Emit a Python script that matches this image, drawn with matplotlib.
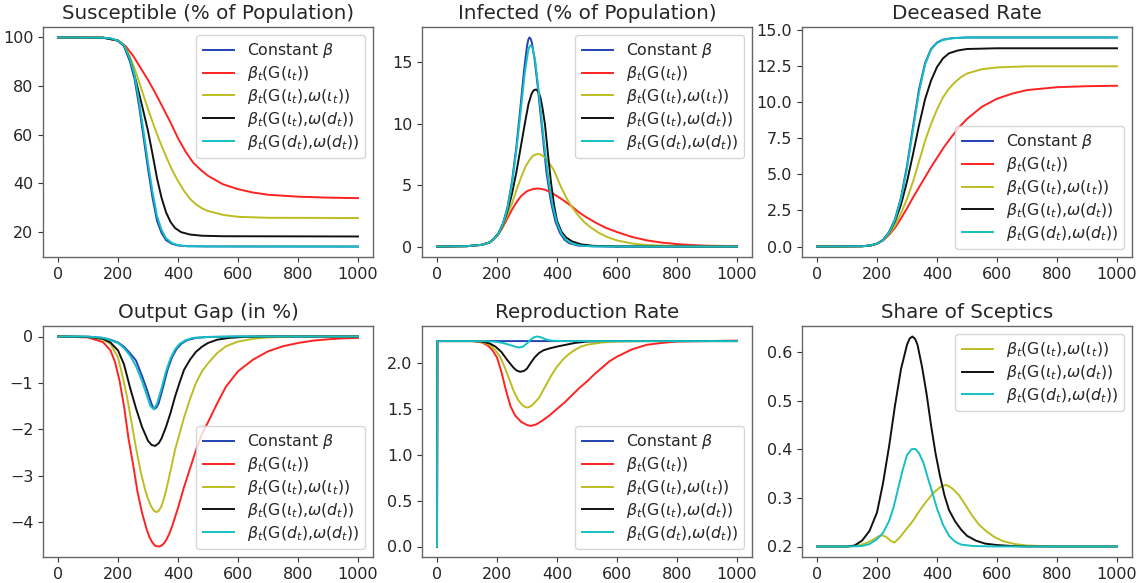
import matplotlib
matplotlib.use("Agg")
import matplotlib.pyplot as plt
from matplotlib.ticker import MultipleLocator, FormatStrFormatter

# -- Values (t in days) --------------------------------------------------------
LABEL_CONST = r"Constant $\beta$"
LABEL_GI    = r"$\beta_t$(G($\iota_t$))"
LABEL_GI_WI = r"$\beta_t$(G($\iota_t$),$\omega$($\iota_t$))"
LABEL_GI_WD = r"$\beta_t$(G($\iota_t$),$\omega$($d_t$))"
LABEL_GD_WD = r"$\beta_t$(G($d_t$),$\omega$($d_t$))"

# Susceptible (% of population)
s_t_const = [0, 150, 175, 200, 220, 240, 255, 270, 285, 300, 315, 330, 345, 360, 380, 400, 430, 500, 1000]
s_const   = [100, 99.9, 99.6, 98.6, 96.5, 90, 83, 72, 59, 46, 34, 24.5, 19.5, 16.5, 15, 14.3, 14.0, 13.9, 13.85]
s_t_gi    = [0, 150, 200, 225, 250, 275, 300, 325, 350, 375, 400, 425, 450, 475, 500, 550, 600, 650, 700, 800, 900, 1000]
s_gi      = [100, 99.9, 98.7, 96.5, 92.5, 87.5, 82.5, 77, 71, 65, 58.5, 53, 48.5, 45.5, 43, 39.5, 37.5, 36.1, 35.2, 34.4, 34.0, 33.8]
s_t_gi_wi = [0, 150, 200, 220, 240, 260, 280, 300, 320, 340, 360, 380, 400, 420, 440, 460, 480, 500, 550, 600, 700, 1000]
s_gi_wi   = [100, 99.9, 98.8, 96.8, 92, 85.5, 78, 70.5, 63.5, 57, 51, 45.5, 40.8, 36.8, 33.5, 31.2, 29.6, 28.5, 26.9, 26.1, 25.7, 25.6]
s_t_gi_wd = [0, 150, 200, 220, 240, 260, 280, 300, 315, 330, 345, 360, 375, 390, 410, 440, 480, 550, 1000]
s_gi_wd   = [100, 99.9, 98.7, 96.6, 91, 82, 72, 61.5, 52, 42, 34, 28, 24, 21.5, 19.8, 18.8, 18.3, 18.1, 18.0]
s_t_gd_wd = [0, 150, 175, 200, 220, 240, 255, 270, 285, 300, 315, 330, 345, 360, 380, 400, 430, 500, 1000]
s_gd_wd   = [100, 99.9, 99.6, 98.7, 96.8, 91, 84.5, 74, 61.5, 48.5, 36.5, 26.5, 20.8, 17.3, 15.3, 14.4, 14.0, 13.9, 13.85]

# Infected (% of population)
i_t_const = [0, 100, 150, 175, 190, 205, 220, 235, 250, 265, 280, 290, 300, 304, 308, 312, 316, 325, 335, 350, 365, 380, 395, 410, 425, 440, 470, 520, 600, 1000]
i_const   = [0, 0.03, 0.15, 0.35, 0.65, 1.1, 1.9, 3.2, 5.3, 8.2, 11.8, 14.3, 16.3, 16.8, 17.0, 16.9, 16.6, 15.3, 13.2, 9.6, 6.0, 3.6, 2.0, 1.1, 0.55, 0.28, 0.08, 0.02, 0, 0]
i_t_gi    = [0, 100, 150, 175, 190, 205, 220, 235, 250, 265, 280, 300, 320, 338, 360, 380, 400, 425, 450, 475, 500, 530, 560, 600, 650, 700, 750, 800, 850, 900, 1000]
i_gi      = [0, 0.03, 0.14, 0.32, 0.6, 1.0, 1.6, 2.3, 3.0, 3.6, 4.1, 4.5, 4.68, 4.72, 4.62, 4.4, 4.1, 3.7, 3.25, 2.75, 2.35, 1.93, 1.55, 1.18, 0.78, 0.5, 0.32, 0.2, 0.12, 0.07, 0.03]
i_t_gi_wi = [0, 100, 150, 175, 190, 205, 220, 235, 250, 265, 280, 295, 310, 320, 330, 340, 350, 360, 375, 390, 405, 420, 435, 450, 470, 490, 510, 540, 570, 600, 650, 700, 800, 1000]
i_gi_wi   = [0, 0.03, 0.14, 0.33, 0.62, 1.03, 1.7, 2.6, 3.5, 4.6, 5.6, 6.5, 7.1, 7.38, 7.5, 7.52, 7.42, 7.22, 6.75, 6.2, 5.3, 4.5, 3.8, 3.2, 2.55, 2.0, 1.6, 1.1, 0.75, 0.5, 0.25, 0.12, 0.03, 0]
i_t_gi_wd = [0, 100, 150, 175, 190, 205, 220, 235, 250, 265, 280, 295, 305, 315, 322, 330, 338, 345, 352, 360, 370, 380, 390, 400, 415, 430, 450, 480, 520, 600, 1000]
i_gi_wd   = [0, 0.03, 0.14, 0.33, 0.63, 1.05, 1.8, 2.9, 4.3, 6.1, 8.2, 10.3, 11.6, 12.4, 12.7, 12.77, 12.6, 12.1, 11.2, 9.9, 7.5, 5.2, 3.4, 2.1, 1.2, 0.75, 0.42, 0.18, 0.06, 0.01, 0]
i_t_gd_wd = [0, 100, 150, 175, 190, 205, 220, 235, 250, 265, 280, 292, 303, 307, 311, 315, 319, 328, 340, 355, 370, 385, 400, 415, 430, 450, 480, 520, 600, 1000]
i_gd_wd   = [0, 0.03, 0.14, 0.33, 0.63, 1.05, 1.85, 3.1, 5.1, 7.9, 11.2, 14.0, 15.8, 16.2, 16.35, 16.3, 16.1, 15.0, 12.4, 8.9, 5.7, 3.4, 1.9, 1.05, 0.55, 0.25, 0.07, 0.02, 0, 0]

# Deceased rate
d_t_const = [0, 150, 180, 200, 220, 240, 260, 280, 300, 320, 340, 360, 380, 400, 420, 450, 500, 1000]
d_const   = [0, 0.02, 0.08, 0.2, 0.45, 1.0, 1.9, 3.4, 5.6, 8.3, 10.9, 12.7, 13.7, 14.15, 14.35, 14.45, 14.5, 14.5]
d_t_gi    = [0, 150, 180, 200, 220, 240, 260, 280, 300, 320, 340, 360, 380, 400, 425, 450, 475, 500, 550, 600, 650, 700, 800, 900, 1000]
d_gi      = [0, 0.02, 0.08, 0.2, 0.42, 0.8, 1.3, 1.95, 2.65, 3.4, 4.1, 4.8, 5.5, 6.15, 6.95, 7.65, 8.3, 8.85, 9.7, 10.25, 10.6, 10.85, 11.05, 11.12, 11.15]
d_t_gi_wi = [0, 150, 180, 200, 220, 240, 260, 280, 300, 320, 340, 360, 380, 400, 420, 440, 460, 480, 500, 550, 600, 700, 1000]
d_gi_wi   = [0, 0.02, 0.08, 0.2, 0.43, 0.85, 1.45, 2.3, 3.3, 4.5, 5.9, 7.3, 8.5, 9.5, 10.35, 10.95, 11.4, 11.75, 12.0, 12.3, 12.42, 12.5, 12.5]
d_t_gi_wd = [0, 150, 180, 200, 220, 240, 260, 280, 300, 320, 340, 360, 380, 400, 420, 440, 470, 500, 600, 1000]
d_gi_wd   = [0, 0.02, 0.08, 0.2, 0.45, 0.95, 1.75, 2.9, 4.5, 6.4, 8.4, 10.2, 11.5, 12.45, 13.05, 13.4, 13.6, 13.7, 13.75, 13.75]
d_t_gd_wd = [0, 150, 180, 200, 220, 240, 260, 280, 300, 320, 340, 360, 380, 400, 420, 450, 500, 1000]
d_gd_wd   = [0, 0.02, 0.08, 0.2, 0.44, 0.97, 1.85, 3.3, 5.4, 8.1, 10.7, 12.6, 13.65, 14.12, 14.33, 14.44, 14.5, 14.5]

# Output gap (in %)
g_t_const = [0, 100, 150, 175, 200, 220, 240, 260, 280, 295, 310, 316, 322, 328, 335, 350, 365, 380, 395, 410, 430, 460, 500, 600, 1000]
g_const   = [0, -0.003, -0.03, -0.07, -0.13, -0.22, -0.36, -0.52, -0.85, -1.12, -1.42, -1.52, -1.56, -1.53, -1.45, -1.1, -0.72, -0.45, -0.27, -0.16, -0.08, -0.03, -0.01, 0, 0]
g_t_gi    = [0, 100, 150, 175, 190, 205, 220, 235, 250, 265, 280, 295, 305, 315, 325, 338, 345, 352, 360, 370, 380, 400, 420, 440, 460, 480, 500, 530, 560, 600, 650, 700, 750, 800, 850, 900, 950, 1000]
g_gi      = [0, -0.02, -0.12, -0.3, -0.55, -0.95, -1.5, -2.2, -2.75, -3.35, -3.8, -4.15, -4.33, -4.45, -4.52, -4.53, -4.51, -4.47, -4.4, -4.27, -4.1, -3.7, -3.25, -2.85, -2.45, -2.1, -1.85, -1.45, -1.08, -0.75, -0.5, -0.32, -0.21, -0.14, -0.09, -0.06, -0.04, -0.03]
g_t_gi_wi = [0, 100, 150, 175, 200, 215, 230, 245, 260, 275, 290, 300, 310, 320, 328, 336, 344, 352, 360, 375, 390, 405, 420, 440, 460, 480, 500, 530, 560, 600, 650, 700, 800, 1000]
g_gi_wi   = [0, -0.01, -0.06, -0.16, -0.45, -0.85, -1.3, -1.85, -2.4, -2.9, -3.3, -3.5, -3.66, -3.76, -3.79, -3.76, -3.67, -3.52, -3.33, -2.9, -2.45, -2.1, -1.75, -1.35, -1.0, -0.75, -0.58, -0.36, -0.21, -0.11, -0.05, -0.02, 0, 0]
g_t_gi_wd = [0, 100, 150, 175, 200, 220, 240, 260, 280, 300, 312, 324, 336, 345, 360, 375, 390, 405, 420, 440, 460, 480, 500, 530, 570, 620, 700, 1000]
g_gi_wd   = [0, -0.01, -0.05, -0.13, -0.3, -0.6, -1.1, -1.55, -1.95, -2.25, -2.34, -2.36, -2.3, -2.2, -1.95, -1.65, -1.3, -1.0, -0.72, -0.5, -0.33, -0.22, -0.14, -0.07, -0.03, -0.01, 0, 0]
g_t_gd_wd = [0, 100, 150, 175, 200, 220, 240, 260, 280, 295, 308, 319, 330, 345, 360, 375, 390, 405, 425, 450, 500, 600, 1000]
g_gd_wd   = [0, -0.003, -0.03, -0.08, -0.14, -0.25, -0.41, -0.64, -0.96, -1.25, -1.5, -1.57, -1.45, -1.12, -0.75, -0.47, -0.28, -0.16, -0.08, -0.03, -0.01, 0, 0]

# Reproduction rate
r_t_const = [0, 1, 1000]
r_const   = [0, 2.24, 2.24]
r_t_gi    = [0, 1, 120, 150, 170, 185, 200, 215, 230, 245, 260, 280, 300, 313, 330, 350, 375, 400, 425, 450, 475, 500, 525, 550, 575, 600, 650, 700, 750, 800, 900, 1000]
r_gi      = [0, 2.24, 2.24, 2.225, 2.19, 2.14, 2.06, 1.9, 1.7, 1.53, 1.43, 1.36, 1.325, 1.315, 1.33, 1.37, 1.43, 1.5, 1.57, 1.65, 1.73, 1.8, 1.88, 1.95, 2.02, 2.07, 2.15, 2.2, 2.22, 2.235, 2.24, 2.245]
r_t_gi_wi = [0, 1, 120, 150, 175, 195, 210, 225, 240, 255, 270, 285, 294, 302, 310, 320, 340, 360, 380, 400, 420, 440, 460, 480, 500, 550, 600, 700, 1000]
r_gi_wi   = [0, 2.24, 2.24, 2.23, 2.2, 2.14, 2.07, 1.96, 1.83, 1.7, 1.6, 1.54, 1.522, 1.515, 1.525, 1.55, 1.62, 1.74, 1.86, 1.96, 2.04, 2.1, 2.145, 2.18, 2.2, 2.225, 2.235, 2.24, 2.24]
r_t_gi_wd = [0, 1, 120, 150, 175, 195, 215, 235, 255, 265, 277, 290, 300, 310, 325, 340, 355, 375, 400, 430, 460, 500, 550, 1000]
r_gi_wd   = [0, 2.24, 2.24, 2.235, 2.215, 2.18, 2.12, 2.03, 1.95, 1.92, 1.905, 1.915, 1.94, 1.99, 2.06, 2.11, 2.14, 2.16, 2.18, 2.2, 2.22, 2.235, 2.24, 2.24]
r_t_gd_wd = [0, 1, 150, 190, 220, 245, 262, 274, 287, 300, 312, 322, 333, 345, 358, 372, 390, 420, 1000]
r_gd_wd   = [0, 2.24, 2.24, 2.235, 2.22, 2.195, 2.178, 2.17, 2.18, 2.215, 2.255, 2.28, 2.29, 2.283, 2.265, 2.25, 2.243, 2.24, 2.24]

# Share of sceptics
k_t_gi_wi = [0, 100, 130, 160, 185, 205, 217, 230, 245, 258, 275, 297, 320, 341, 365, 386, 410, 430, 450, 474, 495, 519, 540, 563, 590, 620, 660, 700, 800, 1000]
k_gi_wi   = [0.2, 0.2, 0.201, 0.206, 0.213, 0.221, 0.223, 0.22, 0.212, 0.208, 0.218, 0.235, 0.253, 0.273, 0.293, 0.309, 0.322, 0.327, 0.32, 0.305, 0.285, 0.262, 0.245, 0.232, 0.22, 0.211, 0.205, 0.202, 0.2, 0.2]
k_t_gi_wd = [0, 100, 125, 150, 175, 200, 220, 240, 260, 280, 300, 309, 318, 327, 335, 350, 365, 380, 395, 410, 425, 440, 460, 480, 500, 530, 560, 600, 650, 700, 1000]
k_gi_wd   = [0.2, 0.2, 0.202, 0.212, 0.232, 0.27, 0.33, 0.405, 0.49, 0.565, 0.615, 0.628, 0.632, 0.627, 0.615, 0.57, 0.515, 0.45, 0.392, 0.345, 0.305, 0.275, 0.252, 0.235, 0.222, 0.212, 0.206, 0.203, 0.201, 0.2, 0.2]
k_t_gd_wd = [0, 100, 150, 175, 200, 220, 240, 255, 270, 285, 300, 315, 327, 340, 355, 370, 385, 400, 420, 440, 460, 480, 520, 600, 1000]
k_gd_wd   = [0.2, 0.2, 0.201, 0.205, 0.215, 0.228, 0.252, 0.28, 0.318, 0.356, 0.388, 0.4, 0.401, 0.392, 0.372, 0.34, 0.31, 0.278, 0.245, 0.222, 0.21, 0.204, 0.201, 0.2, 0.2]

# -- Style ---------------------------------------------------------------------
C_CONST = "#2342b5"
C_GI    = "#ff2222"
C_GI_WI = "#bcbd22"
C_GI_WD = "#111111"
C_GD_WD = "#14c0c4"

plt.rcParams.update({
    "font.family": "DejaVu Sans",
    "text.color": "#262626",
    "axes.edgecolor": "#666666",
    "axes.linewidth": 1.0,
    "xtick.color": "#333333",
    "ytick.color": "#333333",
    "xtick.labelcolor": "#262626",
    "ytick.labelcolor": "#262626",
    "xtick.labelsize": 11.5,
    "ytick.labelsize": 11.5,
    "xtick.major.size": 3.5,
    "ytick.major.size": 3.5,
    "legend.fontsize": 11.3,
    "legend.labelspacing": 0.25,
    "lines.linewidth": 1.4,
})

W, H = 1146, 583
fig = plt.figure(figsize=(W / 100, H / 100), dpi=100)

def px_axes(left, top, right, bottom):
    return fig.add_axes([left / W, 1 - bottom / H, (right - left) / W, (bottom - top) / H])

col_x = [(43, 373), (422, 752), (802, 1132)]
row_y = [(27, 257), (326, 557)]

panels = [
    ("Susceptible (% of Population)", "upper right", [
        (s_t_const, s_const, C_CONST, LABEL_CONST),
        (s_t_gi, s_gi, C_GI, LABEL_GI),
        (s_t_gi_wi, s_gi_wi, C_GI_WI, LABEL_GI_WI),
        (s_t_gi_wd, s_gi_wd, C_GI_WD, LABEL_GI_WD),
        (s_t_gd_wd, s_gd_wd, C_GD_WD, LABEL_GD_WD)]),
    ("Infected (% of Population)", "upper right", [
        (i_t_const, i_const, C_CONST, LABEL_CONST),
        (i_t_gi, i_gi, C_GI, LABEL_GI),
        (i_t_gi_wi, i_gi_wi, C_GI_WI, LABEL_GI_WI),
        (i_t_gi_wd, i_gi_wd, C_GI_WD, LABEL_GI_WD),
        (i_t_gd_wd, i_gd_wd, C_GD_WD, LABEL_GD_WD)]),
    ("Deceased Rate", "lower right", [
        (d_t_const, d_const, C_CONST, LABEL_CONST),
        (d_t_gi, d_gi, C_GI, LABEL_GI),
        (d_t_gi_wi, d_gi_wi, C_GI_WI, LABEL_GI_WI),
        (d_t_gi_wd, d_gi_wd, C_GI_WD, LABEL_GI_WD),
        (d_t_gd_wd, d_gd_wd, C_GD_WD, LABEL_GD_WD)]),
    ("Output Gap (in %)", "lower right", [
        (g_t_const, g_const, C_CONST, LABEL_CONST),
        (g_t_gi, g_gi, C_GI, LABEL_GI),
        (g_t_gi_wi, g_gi_wi, C_GI_WI, LABEL_GI_WI),
        (g_t_gi_wd, g_gi_wd, C_GI_WD, LABEL_GI_WD),
        (g_t_gd_wd, g_gd_wd, C_GD_WD, LABEL_GD_WD)]),
    ("Reproduction Rate", "lower right", [
        (r_t_const, r_const, C_CONST, LABEL_CONST),
        (r_t_gi, r_gi, C_GI, LABEL_GI),
        (r_t_gi_wi, r_gi_wi, C_GI_WI, LABEL_GI_WI),
        (r_t_gi_wd, r_gi_wd, C_GI_WD, LABEL_GI_WD),
        (r_t_gd_wd, r_gd_wd, C_GD_WD, LABEL_GD_WD)]),
    ("Share of Sceptics", "upper right", [
        (k_t_gi_wi, k_gi_wi, C_GI_WI, LABEL_GI_WI),
        (k_t_gi_wd, k_gi_wd, C_GI_WD, LABEL_GI_WD),
        (k_t_gd_wd, k_gd_wd, C_GD_WD, LABEL_GD_WD)]),
]

axes = []
for idx, (title, loc, series) in enumerate(panels):
    r, c = divmod(idx, 3)
    ax = px_axes(col_x[c][0], row_y[r][0], col_x[c][1], row_y[r][1])
    for t, v, color, label in series:
        ax.plot(t, v, color=color, label=label)
    ax.set_title(title, fontsize=14.3, color="#262626")
    ax.set_xticks([0, 200, 400, 600, 800, 1000])
    ax.legend(loc=loc)
    axes.append(ax)

# Deceased panel uses 2.5 steps with one decimal
axes[2].yaxis.set_major_locator(MultipleLocator(2.5))
axes[2].yaxis.set_major_formatter(FormatStrFormatter("%.1f"))

fig.savefig("out.png", dpi=100)
